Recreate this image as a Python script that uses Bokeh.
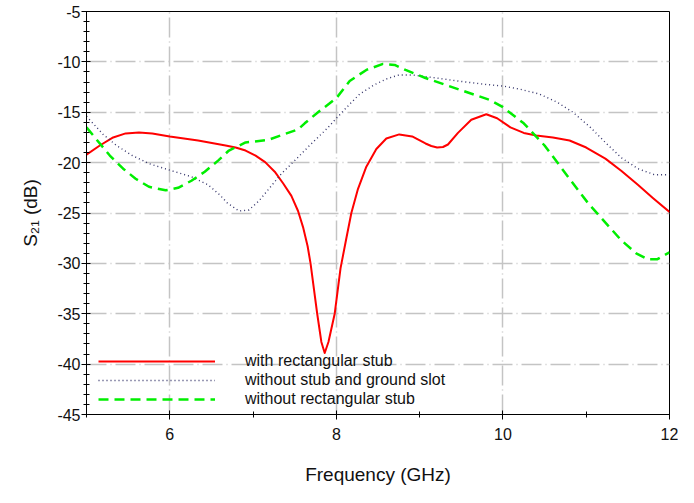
from bokeh.plotting import figure
from bokeh.models import FixedTicker, Legend, LegendItem, Range1d
from bokeh.embed import file_html
from bokeh.resources import INLINE

# ---- data ----
freq_with_stub = [5.0, 5.16, 5.32, 5.47, 5.63, 5.79, 6.0, 6.34, 6.67, 6.79, 6.91, 7.03, 7.145,
                  7.26, 7.36, 7.46, 7.54, 7.60, 7.655, 7.69, 7.77, 7.82, 7.86, 7.905, 7.98,
                  8.05, 8.12, 8.18, 8.26, 8.36, 8.48, 8.60, 8.755, 8.91, 9.07, 9.14, 9.21,
                  9.28, 9.34, 9.46, 9.62, 9.80, 9.93, 10.09, 10.25, 10.4, 10.6, 10.8, 11.0,
                  11.23, 11.42, 11.62, 11.8, 12.0]
s21_with_stub = [-19.2, -18.3, -17.5, -17.1, -17.0, -17.1, -17.4, -17.8, -18.3, -18.5, -18.8,
                 -19.3, -19.95, -20.9, -22.05, -23.3, -24.8, -26.4, -28.3, -30.0, -35.0, -37.8,
                 -38.9, -37.8, -35.0, -30.5, -27.5, -25.0, -22.6, -20.4, -18.65, -17.6, -17.2,
                 -17.4, -18.1, -18.35, -18.5, -18.45, -18.2, -17.05, -15.75, -15.2, -15.6,
                 -16.5, -17.05, -17.3, -17.5, -17.8, -18.5, -19.6, -20.8, -22.2, -23.5, -24.9]

freq_no_stub_slot = [5.0, 5.2, 5.36, 5.55, 5.75, 6.0, 6.26, 6.46, 6.6, 6.69, 6.83, 6.95, 7.07,
                     7.18, 7.34, 7.50, 7.69, 7.89, 8.0, 8.16, 8.28, 8.45, 8.6, 8.75, 8.91, 9.2,
                     9.46, 9.75, 10.0, 10.2, 10.44, 10.65, 10.84, 11.05, 11.23, 11.42, 11.62,
                     11.82, 12.0]
s21_no_stub_slot = [-15.4, -17.2, -18.3, -19.3, -20.1, -20.75, -21.4, -22.2, -23.2, -24.0, -24.8,
                    -24.7, -23.8, -22.7, -21.1, -19.8, -18.2, -16.6, -15.6, -14.2, -13.2, -12.3,
                    -11.7, -11.3, -11.3, -11.6, -11.9, -12.2, -12.4, -12.7, -13.2, -14.0, -15.0,
                    -16.5, -18.0, -19.5, -20.6, -21.2, -21.2]

freq_no_stub = [5.0, 5.12, 5.28, 5.44, 5.59, 5.75, 5.95, 6.10, 6.26, 6.42, 6.58, 6.71, 6.91,
                7.18, 7.42, 7.54, 7.62, 7.78, 8.0, 8.16, 8.36, 8.56, 8.7, 8.83, 9.07, 9.46,
                9.85, 10.0, 10.25, 10.5, 10.8, 11.03, 11.42, 11.6, 11.74, 11.85, 12.0]
s21_no_stub = [-16.5, -17.7, -19.3, -20.6, -21.6, -22.4, -22.75, -22.5, -21.8, -20.9, -19.8,
               -18.8, -18.0, -17.75, -17.05, -16.7, -16.1, -15.0, -13.6, -11.9, -10.8, -10.2,
               -10.3, -10.8, -11.6, -12.7, -13.8, -14.5, -16.1, -18.3, -21.6, -24.1, -27.7,
               -29.0, -29.6, -29.6, -28.9]

labels = ["with rectangular stub", "without stub and ground slot", "without rectangular stub"]
x_major_ticks = [6, 8, 10, 12]
x_minor_ticks = [5, 7, 9, 11]
y_major_ticks = [-45, -40, -35, -30, -25, -20, -15, -10, -5]
y_minor_ticks = list(range(-45, -4, 1))

FONT = "Liberation Sans"

p = figure(width=678, height=487, output_backend="svg", toolbar_location=None,
           x_range=Range1d(5, 12), y_range=Range1d(-45, -5),
           min_border_left=86, min_border_right=9, min_border_top=11, min_border_bottom=69,
           background_fill_color="white", border_fill_color="white")

p.outline_line_color = "black"
p.outline_line_width = 1

r1 = p.line(freq_with_stub, s21_with_stub, line_color="#ff0000", line_width=2,
            line_join="round")
r2 = p.line(freq_no_stub_slot, s21_no_stub_slot, line_color="#34346a", line_width=1.4,
            line_dash="1 3")
r3 = p.line(freq_no_stub, s21_no_stub, line_color="#00ee00", line_width=2.5,
            line_dash="10 6")

p.xaxis.ticker = FixedTicker(ticks=x_major_ticks, minor_ticks=x_minor_ticks)
p.yaxis.ticker = FixedTicker(ticks=y_major_ticks, minor_ticks=y_minor_ticks)
p.xaxis.major_label_overrides = {v: str(v) for v in x_major_ticks}
p.yaxis.major_label_overrides = {v: str(v) for v in y_major_ticks}

for ax in (p.xaxis, p.yaxis):
    ax.axis_line_color = "black"
    ax.major_tick_line_color = "black"
    ax.minor_tick_line_color = "black"
    ax.major_tick_in = 4
    ax.major_tick_out = 5
    ax.minor_tick_in = 3
    ax.minor_tick_out = 3
    ax.major_label_text_font = FONT
    ax.major_label_text_font_size = "16px"
    ax.major_label_text_color = "#111111"
    ax.axis_label_text_font = FONT
    ax.axis_label_text_font_size = "19px"
    ax.axis_label_text_font_style = "normal"
    ax.axis_label_text_color = "#111111"

p.xaxis.axis_label = "Frequency (GHz)"
p.yaxis.axis_label = "S\u2082\u2081 (dB)"
p.xaxis.major_label_standoff = 8
p.xaxis.axis_label_standoff = 21
p.yaxis.major_label_standoff = 1
p.yaxis.axis_label_standoff = 13

for g in (p.xgrid, p.ygrid):
    g.grid_line_color = "#c4c4c4"
    g.grid_line_width = 1.5
    g.grid_line_dash = "20 4 1 4"

legend = Legend(
    items=[LegendItem(label=labels[0], renderers=[r1]),
           LegendItem(label=labels[1], renderers=[r2]),
           LegendItem(label=labels[2], renderers=[r3])],
    location=(12, 6), glyph_width=117, glyph_height=18, label_height=18,
    label_standoff=30, spacing=1, padding=0, margin=0,
    background_fill_alpha=0, border_line_alpha=0)
legend.label_text_font = FONT
legend.label_text_font_size = "16px"
legend.label_text_color = "#111111"
p.add_layout(legend)

open("out.html", "w").write(file_html(p, INLINE))
